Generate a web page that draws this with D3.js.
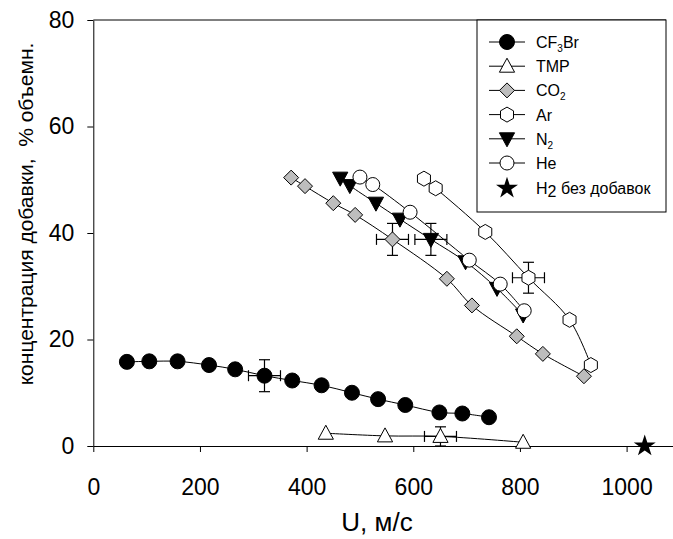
<!DOCTYPE html>
<html lang="ru">
	<head>
		<meta charset="utf-8">
		<title>Концентрация добавки</title>
		<script type="text/javascript" src="https://cdnjs.cloudflare.com/ajax/libs/d3/7.8.5/d3.min.js"></script>
		<style type="text/css">
			body { margin: 0; background: #fff; }
			svg { font-family: Arial, "Liberation Sans", sans-serif; }
		</style>
	</head>
	<body>
		<script type="text/javascript">
			var w = 673;
			var h = 539;

			// данные
			var cf3brX = [63, 105, 158, 217, 266, 321, 373, 428, 485, 534, 585, 649, 692, 742];
			var cf3brY = [15.8, 15.9, 15.9, 15.2, 14.4, 13.2, 12.3, 11.4, 10.0, 8.8, 7.7, 6.3, 6.1, 5.4];
			var tmpX = [436, 547, 651, 806];
			var tmpY = [2.4, 1.9, 1.8, 0.7];
			var co2X = [371, 397, 450, 491, 561, 663, 710, 794, 843, 920];
			var co2Y = [50.4, 48.8, 45.6, 43.4, 38.8, 31.4, 26.4, 20.6, 17.3, 13.1];
			var arX = [620, 642, 735, 816, 893, 933];
			var arY = [50.2, 48.4, 40.2, 31.6, 23.7, 15.2];
			var n2X = [463, 481, 530, 575, 633, 698, 757, 806];
			var n2Y = [50.3, 48.9, 45.6, 42.6, 38.8, 34.6, 29.6, 24.6];
			var heX = [500, 524, 594, 705, 763, 808];
			var heY = [50.5, 49.1, 43.9, 34.9, 30.4, 25.4];
			var h2X = [1034];
			var h2Y = [0];

			// погрешности: [x, y, dx, dy]
			var errBars = [
				[321, 13.2, 30, 3.0],
				[651, 1.8, 30, 1.8],
				[561, 38.8, 30, 3.0],
				[633, 38.8, 30, 3.0],
				[816, 31.6, 30, 2.9]
			];

			var xTicks = [0, 200, 400, 600, 800, 1000];
			var yTicks = [0, 20, 40, 60, 80];

			var x = d3.scaleLinear().domain([0, 1087]).range([93.3, 673]);
			var y = d3.scaleLinear().domain([0, 80]).range([446, 20]);

			var svg = d3.select("body")
						.append("svg")
						.attr("width", w)
						.attr("height", h);

			function zip(xs, ys) {
				return xs.map(function(d, i) { return [d, ys[i]]; });
			}

			// оси
			var xAxis = svg.append("g")
				.attr("transform", "translate(0," + y(0) + ")")
				.call(d3.axisBottom(x).tickValues(xTicks).tickFormat(d3.format("d"))
					.tickSize(6).tickSizeOuter(0).tickPadding(27));
			var yAxis = svg.append("g")
				.attr("transform", "translate(" + x(0) + ",0)")
				.call(d3.axisLeft(y).tickValues(yTicks).tickFormat(d3.format("d"))
					.tickSize(6).tickSizeOuter(0).tickPadding(13));
			[xAxis, yAxis].forEach(function(a) {
				a.selectAll("text").attr("font-size", "23px").attr("fill", "#000")
					.attr("font-family", "Arial, 'Liberation Sans', sans-serif");
				a.selectAll("line, path").attr("stroke", "#000");
			});

			// верхняя линия рамки
			svg.append("line")
				.attr("x1", x(0)).attr("x2", 666)
				.attr("y1", y(80)).attr("y2", y(80))
				.attr("stroke", "#000");

			// подписи осей
			svg.append("text")
				.attr("x", 377).attr("y", 531)
				.attr("text-anchor", "middle")
				.attr("font-size", "26px")
				.text("U, м/с");
			svg.append("text")
				.attr("transform", "translate(33,214) rotate(-90)")
				.attr("text-anchor", "middle")
				.attr("font-size", "21px")
				.attr("xml:space", "preserve")
				.style("white-space", "pre")
				.text("концентрация добавки,  % объемн.");

			var line = d3.line()
				.x(function(d) { return x(d[0]); })
				.y(function(d) { return y(d[1]); })
				.curve(d3.curveCatmullRom.alpha(0.5));

			var series = [
				{ name: "CF3Br", pts: zip(cf3brX, cf3brY), shape: "circle", fill: "#000", r: 7.5 },
				{ name: "TMP", pts: zip(tmpX, tmpY), shape: "triUp", fill: "#fff", r: 8 },
				{ name: "CO2", pts: zip(co2X, co2Y), shape: "diamond", fill: "#bdbdbd", r: 7.5 },
				{ name: "Ar", pts: zip(arX, arY), shape: "hex", fill: "#fff", r: 7.5 },
				{ name: "N2", pts: zip(n2X, n2Y), shape: "triDown", fill: "#000", r: 8 },
				{ name: "He", pts: zip(heX, heY), shape: "circle", fill: "#fff", r: 7 }
			];

			function shapePath(shape, r) {
				var p = [];
				if (shape == "triUp") {
					p = [[0, -r], [r * 0.95, r * 0.75], [-r * 0.95, r * 0.75]];
				} else if (shape == "triDown") {
					p = [[0, r], [r * 0.95, -r * 0.75], [-r * 0.95, -r * 0.75]];
				} else if (shape == "diamond") {
					p = [[0, -r], [r, 0], [0, r], [-r, 0]];
				} else if (shape == "hex") {
					for (var k = 0; k < 6; k++) {
						var a = Math.PI / 3 * k - Math.PI / 2;
						p.push([r * Math.cos(a), r * Math.sin(a)]);
					}
				}
				return "M" + p.map(function(q) { return q[0].toFixed(2) + "," + q[1].toFixed(2); }).join("L") + "Z";
			}

			function drawMarker(g, s, cx, cy) {
				if (s.shape == "circle") {
					g.append("circle").attr("cx", cx).attr("cy", cy).attr("r", s.r)
						.attr("fill", s.fill).attr("stroke", "#000");
				} else {
					g.append("path").attr("d", shapePath(s.shape, s.r))
						.attr("transform", "translate(" + cx + "," + cy + ")")
						.attr("fill", s.fill).attr("stroke", "#000");
				}
			}

			// линии
			svg.selectAll("path.series")
				.data(series)
				.enter()
				.append("path")
				.attr("class", "series")
				.attr("d", function(d) { return line(d.pts); })
				.attr("fill", "none")
				.attr("stroke", "#000")
				.attr("stroke-width", 1);

			// погрешности
			var cap = 5.5;
			var eb = svg.append("g").attr("stroke", "#000").attr("stroke-width", 1.2);
			errBars.forEach(function(e) {
				var cx = x(e[0]), cy = y(e[1]);
				var x1 = x(e[0] - e[2]), x2 = x(e[0] + e[2]);
				var y1 = y(e[1] - e[3]), y2 = y(e[1] + e[3]);
				eb.append("line").attr("x1", x1).attr("x2", x2).attr("y1", cy).attr("y2", cy);
				eb.append("line").attr("x1", cx).attr("x2", cx).attr("y1", y1).attr("y2", y2);
				eb.append("line").attr("x1", x1).attr("x2", x1).attr("y1", cy - cap).attr("y2", cy + cap);
				eb.append("line").attr("x1", x2).attr("x2", x2).attr("y1", cy - cap).attr("y2", cy + cap);
				eb.append("line").attr("x1", cx - cap).attr("x2", cx + cap).attr("y1", y1).attr("y2", y1);
				eb.append("line").attr("x1", cx - cap).attr("x2", cx + cap).attr("y1", y2).attr("y2", y2);
			});

			// маркеры
			var mk = svg.append("g");
			series.forEach(function(s) {
				s.pts.forEach(function(d) { drawMarker(mk, s, x(d[0]), y(d[1])); });
			});

			var star = d3.symbol().type(d3.symbolStar).size(150);
			svg.selectAll("path.h2")
				.data(zip(h2X, h2Y))
				.enter()
				.append("path")
				.attr("class", "h2")
				.attr("d", star)
				.attr("transform", function(d) { return "translate(" + x(d[0]) + "," + y(d[1]) + ")"; })
				.attr("fill", "#000");

			// легенда
			var lg = svg.append("g");
			lg.append("rect")
				.attr("x", 477).attr("y", 20)
				.attr("width", 189).attr("height", 192)
				.attr("fill", "#fff").attr("stroke", "#000");
			var labels = [
				["CF", "3", "Br"], ["TMP", "", ""], ["CO", "2", ""],
				["Ar", "", ""], ["N", "2", ""], ["He", "", ""]
			];
			series.forEach(function(s, i) {
				var ly = 42 + i * 24.2;
				lg.append("line").attr("x1", 489).attr("x2", 525)
					.attr("y1", ly).attr("y2", ly).attr("stroke", "#000");
				drawMarker(lg, s, 507, ly);
				var t = lg.append("text").attr("x", 536).attr("y", ly + 6).attr("font-size", "16px");
				t.append("tspan").text(labels[i][0]);
				if (labels[i][1]) {
					t.append("tspan").attr("font-size", "10px").attr("dy", 4).text(labels[i][1]);
					if (labels[i][2]) t.append("tspan").attr("font-size", "16px").attr("dy", -4).text(labels[i][2]);
				}
			});
			var sy = 42 + 6 * 24.2 + 1;
			lg.append("path").attr("d", star).attr("transform", "translate(507," + sy + ")").attr("fill", "#000");
			var t2 = lg.append("text").attr("x", 536).attr("y", sy + 5.5).attr("font-size", "16px");
			t2.append("tspan").text("H");
			t2.append("tspan").attr("dy", 3).text("2");
			t2.append("tspan").attr("dy", -3).text(" без добавок");
		</script>
	</body>
</html>
